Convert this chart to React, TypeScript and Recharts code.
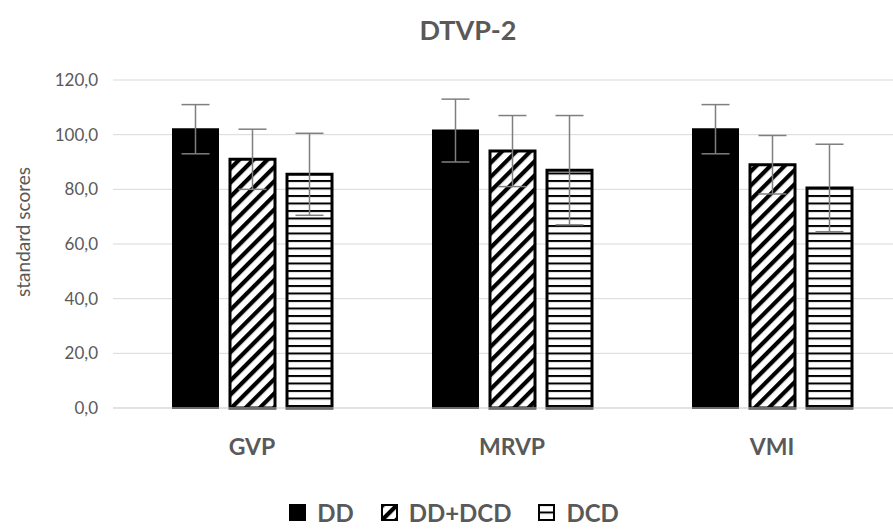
import React from 'react';
import { BarChart, Bar, XAxis, YAxis, CartesianGrid, ErrorBar } from 'recharts';

const categories = ['GVP', 'MRVP', 'VMI'];
const ddValues = [102, 101.5, 102];
const ddErrors = [9, 11.5, 9];
const ddDcdValues = [91, 94, 89];
const ddDcdErrors = [11, 13, 10.7];
const dcdValues = [85.5, 87, 80.5];
const dcdErrors = [15, 20, 16];
const yTicks = [0, 20, 40, 60, 80, 100, 120];

const data = categories.map((c, i) => ({
  name: c,
  dd: ddValues[i],
  ddErr: ddErrors[i],
  dddcd: ddDcdValues[i],
  dddcdErr: ddDcdErrors[i],
  dcd: dcdValues[i],
  dcdErr: dcdErrors[i],
}));

const FONT = 'Lato, "Open Sans", sans-serif';
const TEXT = '#595959';

const Defs = ({ suffix = '' }: { suffix?: string }) => (
  <defs>
    <pattern id={'diag' + suffix} patternUnits="userSpaceOnUse" width={10} height={10} patternTransform="rotate(45)">
      <rect x={0} y={0} width={10} height={10} fill="#fff" />
      <rect x={0} y={0} width={4.2} height={10} fill="#000" />
    </pattern>
    <pattern id={'horiz' + suffix} patternUnits="userSpaceOnUse" width={8} height={7.5}>
      <rect x={0} y={0} width={8} height={7.5} fill="#fff" />
      <rect x={0} y={0} width={8} height={2} fill="#000" />
    </pattern>
  </defs>
);

const LegendItem = ({ fill, label, suffix }: { fill: string; label: string; suffix: string }) => (
  <div style={{ display: 'flex', alignItems: 'center', marginRight: 27 }}>
    <svg width={17} height={17} style={{ marginRight: 11 }}>
      <Defs suffix={suffix} />
      <rect x={1} y={1} width={15} height={15} fill={fill} stroke="#000" strokeWidth={2} />
    </svg>
    <span style={{ fontFamily: FONT, fontWeight: 700, fontSize: 24, color: TEXT }}>{label}</span>
  </div>
);

export default function App() {
  return (
    <div style={{ position: 'absolute', left: 0, top: 0, width: 893, height: 529, overflow: 'hidden', background: '#fff' }}>
      <div
        style={{
          position: 'absolute', left: 368, top: 13, width: 200, textAlign: 'center',
          fontFamily: FONT, fontWeight: 700, fontSize: 27, color: TEXT,
        }}
      >
        DTVP-2
      </div>
      <div
        style={{
          position: 'absolute', left: 22, top: 232, transform: 'translate(-50%, -50%) rotate(-90deg)',
          fontFamily: FONT, fontSize: 19, color: TEXT, whiteSpace: 'nowrap',
        }}
      >
        standard scores
      </div>
      <BarChart
        width={902}
        height={529}
        data={data}
        margin={{ top: 80, right: 0, bottom: 81, left: 25 }}
        barSize={45}
        barGap={12}
      >
        <Defs />
        <CartesianGrid vertical={false} stroke="#d9d9d9" strokeWidth={1} />
        <XAxis
          dataKey="name"
          height={40}
          padding={{ left: 9, right: 0 }}
          tickLine={false}
          axisLine={{ stroke: '#d9d9d9' }}
          tickMargin={25}
          tick={{ fontFamily: FONT, fontWeight: 700, fontSize: 23, fill: TEXT }}
        />
        <YAxis
          width={88}
          domain={[0, 120]}
          ticks={yTicks}
          tickLine={false}
          axisLine={false}
          tickMargin={9}
          tickFormatter={(v: number) => v.toFixed(1).replace('.', ',')}
          tick={{ fontFamily: FONT, fontSize: 17, fill: TEXT }}
        />
        <Bar dataKey="dd" fill="#000" stroke="#000" strokeWidth={2} isAnimationActive={false}>
          <ErrorBar dataKey="ddErr" width={14} stroke="#7f7f7f" strokeWidth={1.5} direction="y" />
        </Bar>
        <Bar dataKey="dddcd" fill="url(#diag)" stroke="#000" strokeWidth={3} isAnimationActive={false}>
          <ErrorBar dataKey="dddcdErr" width={14} stroke="#7f7f7f" strokeWidth={1.5} direction="y" />
        </Bar>
        <Bar dataKey="dcd" fill="url(#horiz)" stroke="#000" strokeWidth={3} isAnimationActive={false}>
          <ErrorBar dataKey="dcdErr" width={14} stroke="#7f7f7f" strokeWidth={1.5} direction="y" />
        </Bar>
      </BarChart>
      <div
        style={{
          position: 'absolute', left: 0, top: 498, width: 893, display: 'flex', justifyContent: 'center',
          paddingLeft: 42, boxSizing: 'border-box',
        }}
      >
        <LegendItem fill="#000" label="DD" suffix="l1" />
        <LegendItem fill="url(#diagl2)" label="DD+DCD" suffix="l2" />
        <LegendItem fill="url(#horizl3)" label="DCD" suffix="l3" />
      </div>
    </div>
  );
}
